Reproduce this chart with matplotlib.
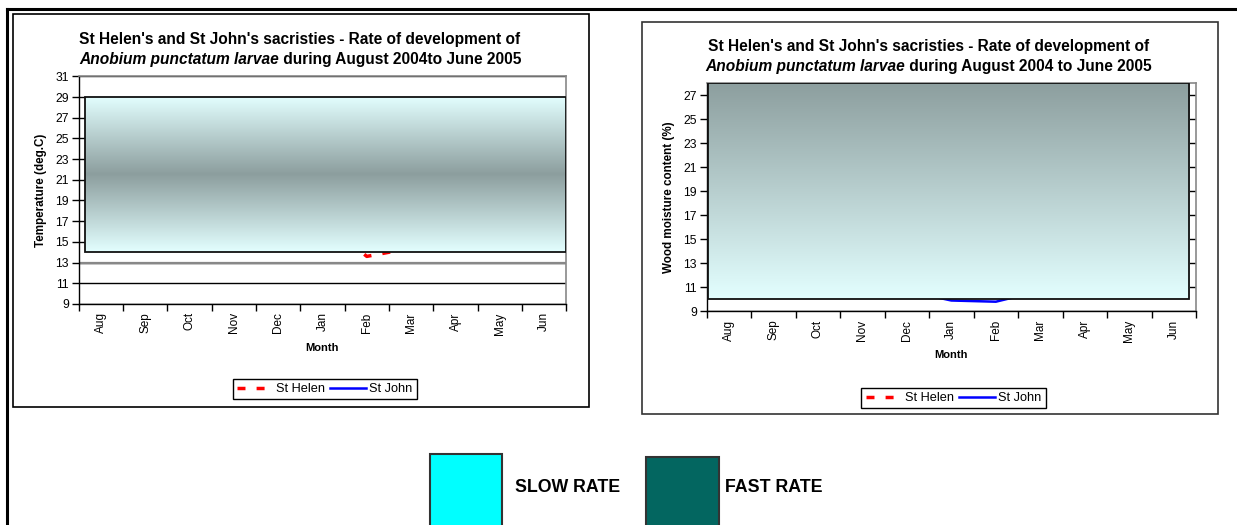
import numpy as np
import matplotlib
matplotlib.use("Agg")
import matplotlib.pyplot as plt
from matplotlib.patches import Rectangle
from matplotlib.lines import Line2D

plt.rcParams['font.family'] = ['Liberation Sans', 'DejaVu Sans']

# %% data

months = ['Aug', 'Sep', 'Oct', 'Nov', 'Dec', 'Jan', 'Feb', 'Mar', 'Apr', 'May', 'Jun']
temp_helen = [19.5, 18.0, 16.5, 15.5, 15.0, 17.0, 13.6, 14.4, 15.5, 17.0, 18.5]
temp_john = [20.0, 18.5, 17.0, 16.0, 15.2, 14.8, 14.5, 15.0, 16.0, 17.5, 19.0]
moist_helen = [14.0, 13.5, 13.5, 13.0, 12.5, 12.0, 11.5, 11.5, 12.0, 12.5, 13.0]
moist_john = [13.0, 12.5, 12.0, 11.5, 10.7, 9.9, 9.8, 10.7, 11.0, 11.5, 12.0]

temp_ticks = list(range(9, 32, 2))
moist_ticks = list(range(9, 28, 2))

W, H = 1237, 525
def fx(px):
    return px / W
def fy(py):
    return 1 - py / H

fig = plt.figure(figsize=(W / 100, H / 100), dpi=100)

light = np.array([0.89, 1.0, 1.0])
dark = np.array([0.55, 0.62, 0.62])
TITLE_FS = 11.2


def draw_chart(ax, helen, john, ticks, ylim, rect, band):
    x = np.arange(len(months)) + 0.5
    ax.plot(x, helen, color='#ff0000', lw=2.5, dashes=(2.3, 3.2), zorder=2, label='St Helen')
    ax.plot(x, john, color='#0000ff', lw=1.8, zorder=2, label='St John')

    # gradient band drawn over the data, like the shape in the original sheet
    x0, x1, y0, y1 = rect
    s = np.linspace(0, 1, 256)
    if band == 'mid':
        t = 1 - np.abs(2 * s - 1)
    else:
        t = s
    cols = light[None, :] + (dark - light)[None, :] * t[:, None]
    ax.imshow(cols[:, None, :], extent=[x0, x1, y0, y1], origin='lower',
              aspect='auto', zorder=3)
    ax.add_patch(Rectangle((x0, y0), x1 - x0, y1 - y0, fill=False,
                           edgecolor='#111111', lw=1.3, zorder=4))

    ax.set_xlim(0, len(months))
    ax.set_ylim(*ylim)
    ax.set_yticks(ticks)
    ax.set_xticks(range(len(months) + 1))
    ax.set_xticklabels([])
    ax.set_xticks(x, minor=True)
    ax.set_xticklabels(months, minor=True, rotation=90, fontsize=8.5)
    ax.tick_params(axis='x', which='major', length=5, width=1, direction='out')
    ax.tick_params(axis='x', which='minor', length=0, pad=6)
    ax.tick_params(axis='y', length=5, width=1, labelsize=8.7, pad=2)
    ax.grid(axis='y', color='black', lw=1)
    for side in ['left', 'bottom']:
        ax.spines[side].set_color('black')
        ax.spines[side].set_linewidth(1)
    for side in ['top', 'right']:
        ax.spines[side].set_color('#888888')
        ax.spines[side].set_linewidth(1.2)
    ax.legend(loc='center', bbox_transform=fig.transFigure,
              ncol=2, frameon=True, fancybox=False, edgecolor='black', framealpha=1,
              handlelength=2.8, handletextpad=0.25, columnspacing=0.4, borderpad=0.35,
              fontsize=9.2)
    return ax


def title(cx, y1, y2, rest):
    fig.text(fx(cx), fy(y1), "St Helen's and St John's sacristies - Rate of development of",
             ha='center', va='center', fontsize=TITLE_FS, fontweight='bold')
    r = fig.canvas.get_renderer()
    a = fig.text(0, fy(y2), 'Anobium punctatum larvae', va='center', fontsize=TITLE_FS,
                 fontweight='bold', style='italic')
    b = fig.text(0, fy(y2), rest, va='center', fontsize=TITLE_FS, fontweight='bold')
    wa = a.get_window_extent(r).width
    wb = b.get_window_extent(r).width
    left = cx - (wa + wb) / 2
    a.set_x(fx(left))
    b.set_x(fx(left + wa))


# left chart
fig.add_artist(Rectangle((fx(13), fy(407)), fx(589) - fx(13), fy(14) - fy(407),
                         transform=fig.transFigure, fill=False, edgecolor='black', lw=1.2))
ax1 = fig.add_axes([fx(78.5), fy(304), fx(566.4) - fx(78.5), fy(76.3) - fy(304)])
draw_chart(ax1, temp_helen, temp_john, temp_ticks, (9, 31), (0.15, 10.98, 14, 29), 'mid')
ax1.axhline(13, color='#888888', lw=1.6, zorder=1.8)
ax1.get_legend().set_bbox_to_anchor((fx(325), fy(389)), transform=fig.transFigure)
title(300, 39.5, 59.5, ' during August 2004to June 2005')
fig.text(fx(41), fy(190), 'Temperature (deg.C)', rotation=90, ha='center', va='center',
         fontsize=8.4, fontweight='bold')
fig.text(fx(322), fy(348), 'Month', ha='center', va='center', fontsize=8, fontweight='bold')

# right chart
fig.add_artist(Rectangle((fx(641.6), fy(414)), fx(1217.7) - fx(641.6), fy(21.7) - fy(414),
                         transform=fig.transFigure, fill=False, edgecolor='#333333', lw=1.2))
ax2 = fig.add_axes([fx(706.7), fy(311.3), fx(1196) - fx(706.7), fy(83.3) - fy(311.3)])
draw_chart(ax2, moist_helen, moist_john, moist_ticks, (9, 28), (0.03, 10.85, 10, 28), 'top')
ax2.get_legend().set_bbox_to_anchor((fx(953.5), fy(398)), transform=fig.transFigure)
title(928.7, 46, 67, ' during August 2004 to June 2005')
fig.text(fx(668.7), fy(197), 'Wood moisture content (%)', rotation=90, ha='center',
         va='center', fontsize=8.4, fontweight='bold')
fig.text(fx(951), fy(355), 'Month', ha='center', va='center', fontsize=8, fontweight='bold')

# outer page border
fig.add_artist(Line2D([fx(7.5), 1], [fy(9), fy(9)], transform=fig.transFigure,
                      color='black', lw=2.2))
fig.add_artist(Line2D([fx(7.5), fx(7.5)], [fy(9), 0], transform=fig.transFigure,
                      color='black', lw=2.2))

# rate key
fig.add_artist(Rectangle((fx(430), fy(530)), fx(502) - fx(430), fy(454) - fy(530),
                         transform=fig.transFigure, facecolor='#00ffff',
                         edgecolor='#333333', lw=1.5))
fig.text(fx(515), fy(487), 'SLOW RATE', ha='left', va='center', fontsize=12.8,
         fontweight='bold')
fig.add_artist(Rectangle((fx(646), fy(530)), fx(719) - fx(646), fy(457) - fy(530),
                         transform=fig.transFigure, facecolor='#036660',
                         edgecolor='#333333', lw=1.5))
fig.text(fx(725), fy(487), 'FAST RATE', ha='left', va='center', fontsize=12.8,
         fontweight='bold')

fig.savefig('out.png', dpi=100)
